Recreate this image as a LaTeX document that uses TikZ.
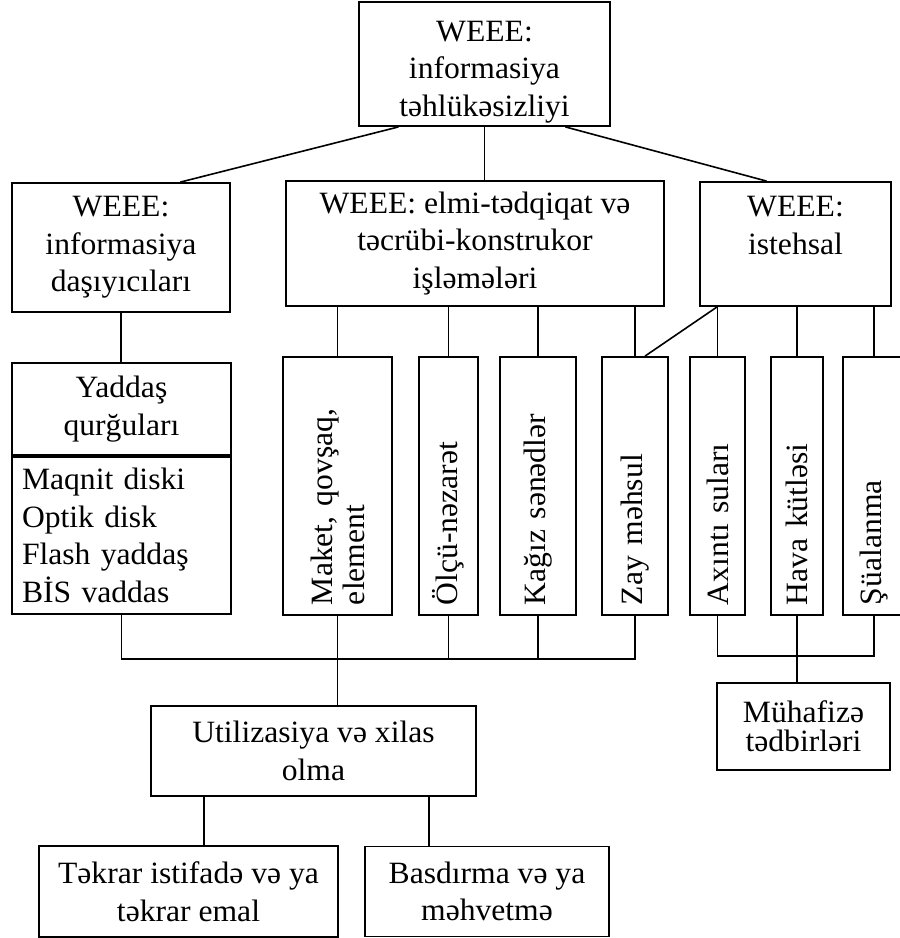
\documentclass[tikz,border=0pt]{standalone}
\usepackage{fontspec}
\setmainfont{Liberation Serif}[FakeStretch=1.02]
\usetikzlibrary{positioning, calc}
\tikzset{
x=0.5pt, y=0.5pt, % one unit is one pixel of the layout
box/.style={draw, line width=0.9pt, align=center, inner sep=2pt, font=\fontsize{15.5pt}{18.75pt}\selectfont}, % every framed block
vbox/.style={box, rotate=90, align=left, text width=119pt, inner xsep=5pt, minimum width=129pt}, % upright blocks, text read from below
link/.style={line width=0.8pt}, % plain joining lines
}

\begin{document}
\begin{tikzpicture}
    \useasboundingbox (0,0) rectangle (900,-938);

    \node[box, minimum width=125.5pt, minimum height=62pt, inner ysep=0pt] (top) at (484.5,-64) {\rule{0pt}{18pt}WEEE:\\informasiya\\təhlükəsizliyi};
    \node[box, minimum width=109pt, minimum height=64.5pt] (dsy) at (121,-247.5) {WEEE:\\informasiya\\daşıyıcıları};
    \node[box, minimum width=189pt, minimum height=62.5pt] (elm) at (475,-243.5) {WEEE: elmi-tədqiqat və\\təcrübi-konstrukor\\işləmələri};
    \node[box, minimum width=95.5pt, minimum height=62pt] (ist) at (795.5,-244) {WEEE:\\istehsal\\\mbox{}};

    \node[box, minimum width=109.5pt, minimum height=46pt] (yad) at (121.5,-409) {Yaddaş\\qurğuları};
    \node[box, below=0pt of yad, align=left, text width=99.5pt, inner xsep=5pt, minimum height=78.5pt] (yadl) {Maqnit diski\\Optik disk\\Flash yaddaş\\BİS vaddas};

    \node[vbox, minimum height=54.5pt, font=\fontsize{15.5pt}{16pt}\selectfont] (mak) at (337.5,-486) {Maket, qovşaq,\\element};
    \node[vbox, minimum height=29.5pt] (olc) at (448.5,-486) {Ölçü-nəzarət};
    \node[vbox, minimum height=38pt] (kag) at (538,-486) {Kağız sənədlər};
    \node[vbox, minimum height=33pt] (zay) at (635,-486) {Zay məhsul};
    \node[vbox, minimum height=27.5pt] (axi) at (717.5,-486) {Axıntı suları};
    \node[vbox, minimum height=26pt] (hav) at (797,-486) {Hava kütləsi};
    \node[vbox, minimum height=31pt] (sua) at (874,-486) {Şüalanma};

    \node[box, minimum width=86.5pt, minimum height=43.5pt, font=\fontsize{15.5pt}{14.5pt}\selectfont] (mhf) at (803.5,-726.5) {Mühafizə\\tədbirləri};
    \node[box, minimum width=162.5pt, minimum height=45pt] (util) at (313.5,-751) {Utilizasiya və xilas\\olma};
    \node[box, minimum width=149.5pt, minimum height=45.5pt] (tkr) at (188.5,-891.5) {Təkrar istifadə və ya\\təkrar emal};
    \node[box, minimum width=122pt, minimum height=45pt] (bas) at (487,-891.5) {Basdırma və ya\\məhvetmə};

    \coordinate (t1) at ($(top.south west)!0.16!(top.south east)$);
    \coordinate (t2) at ($(top.south west)!0.82!(top.south east)$);
    \coordinate (d1) at ($(dsy.north west)!0.77!(dsy.north east)$);
    \coordinate (i1) at ($(ist.north west)!0.35!(ist.north east)$);
    \coordinate (i2) at ($(ist.south west)+(9pt,0)$);
    \coordinate (z1) at ($(zay.east)+(5pt,0)$);
    \coordinate (busL) at (337,-659);
    \coordinate (busR) at (797,-656);
    \coordinate (u1) at ($(util.south west)+(27pt,0)$);
    \coordinate (u2) at ($(util.south west)+(139.5pt,0)$);

    \draw[link] (t1) edge (d1)
            (t2) edge (i1)
            (top.south) edge (top.south |- elm.north)
            (dsy.south) edge (dsy.south |- yad.north)
            (elm.south -| mak.east) edge (mak.east)
            (elm.south -| olc.east) edge (olc.east)
            (elm.south -| kag.east) edge (kag.east)
            (elm.south -| zay.east) edge (zay.east)
            (i2) edge (z1)
            (ist.south -| axi.east) edge (axi.east)
            (ist.south -| hav.east) edge (hav.east)
            (ist.south -| sua.east) edge (sua.east);

    \draw[link] (yadl.south) |- (busL) -| (zay.west);
    \draw[link] (mak.west) edge (mak.west |- util.north)
            (olc.west) edge (olc.west |- busL)
            (kag.west) edge (kag.west |- busL);
    \draw[link] (axi.west) |- (busR) -| (sua.west);
    \draw[link] (hav.west) edge (hav.west |- mhf.north)
            (u1) edge (u1 |- tkr.north)
            (u2) edge (u2 |- bas.north);

\end{tikzpicture}
\end{document}
